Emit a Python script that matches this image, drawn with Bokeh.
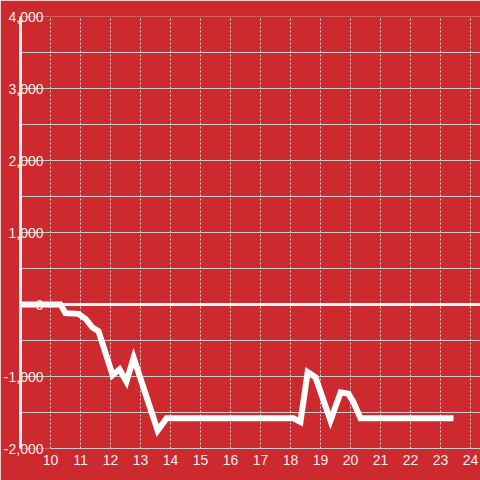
from bokeh.plotting import figure
from bokeh.models import Span, FixedTicker, NumeralTickFormatter, Range1d
from bokeh.embed import file_html
from bokeh.resources import INLINE

# data
x_vals = [9.0, 10.33, 10.5, 10.93, 11.17, 11.4, 11.6, 12.07, 12.3, 12.53, 12.77,
          13.57, 13.87, 18.1, 18.33, 18.57, 18.83, 19.33, 19.67, 19.93, 20.1,
          20.33, 23.43]
y_vals = [0, 0, -120, -130, -200, -320, -370, -980, -900, -1070, -740,
          -1750, -1580, -1580, -1630, -940, -1010, -1610, -1220, -1240, -1360,
          -1580, -1580]
x_ticks = list(range(10, 25))
y_ticks = [-2000, -1000, 0, 1000, 2000, 3000, 4000]
y_minor = [-1500, -500, 500, 1500, 2500, 3500]

BG = "#cc2a2f"
TXT = "#eeeeee"

p = figure(width=480, height=480, output_backend="svg", toolbar_location=None,
           x_range=Range1d(9, 24.33), y_range=Range1d(-2000, 4000),
           min_border_left=20, min_border_right=0, min_border_top=16,
           min_border_bottom=32)
p.background_fill_color = BG
p.border_fill_color = BG
p.outline_line_color = None

# x axis
p.xaxis.ticker = FixedTicker(ticks=x_ticks)
p.xaxis.axis_line_color = "#cccccc"
p.xaxis.axis_line_width = 1
p.xaxis.bounds = (10, 24.33)
p.xaxis.major_tick_line_color = None
p.xaxis.minor_tick_line_color = None
p.xaxis.major_tick_out = 0
p.xaxis.major_tick_in = 0
p.xaxis.major_label_standoff = 6
p.xaxis.major_label_text_color = TXT
p.xaxis.major_label_text_font = "Liberation Sans"
p.xaxis.major_label_text_font_size = "14px"

# y axis
p.yaxis.ticker = FixedTicker(ticks=y_ticks, minor_ticks=y_minor)
p.yaxis.formatter = NumeralTickFormatter(format="0,0")
p.yaxis.axis_line_color = "#f2f2f2"
p.yaxis.axis_line_width = 3
p.yaxis.major_tick_line_color = None
p.yaxis.minor_tick_line_color = None
p.yaxis.major_tick_out = 0
p.yaxis.major_tick_in = 0
p.yaxis.major_label_standoff = -27
p.yaxis.major_label_text_color = TXT
p.yaxis.major_label_text_font = "Liberation Sans"
p.yaxis.major_label_text_font_size = "14px"

# grids
p.xgrid.grid_line_color = "#eeeeee"
p.xgrid.grid_line_alpha = 0.85
p.xgrid.grid_line_dash = "2 2"
p.xgrid.grid_line_width = 1
p.ygrid.grid_line_color = "#cccccc"
p.ygrid.grid_line_width = 1
p.ygrid.minor_grid_line_color = "#cccccc"
p.ygrid.minor_grid_line_width = 1

# zero line
p.add_layout(Span(location=0, dimension="width", line_color="#f8f8f8", line_width=3))

# data line
p.line(x_vals, y_vals, line_color="white", line_width=6,
       line_join="miter", line_cap="butt")

open("out.html", "w").write(file_html(p, INLINE))
